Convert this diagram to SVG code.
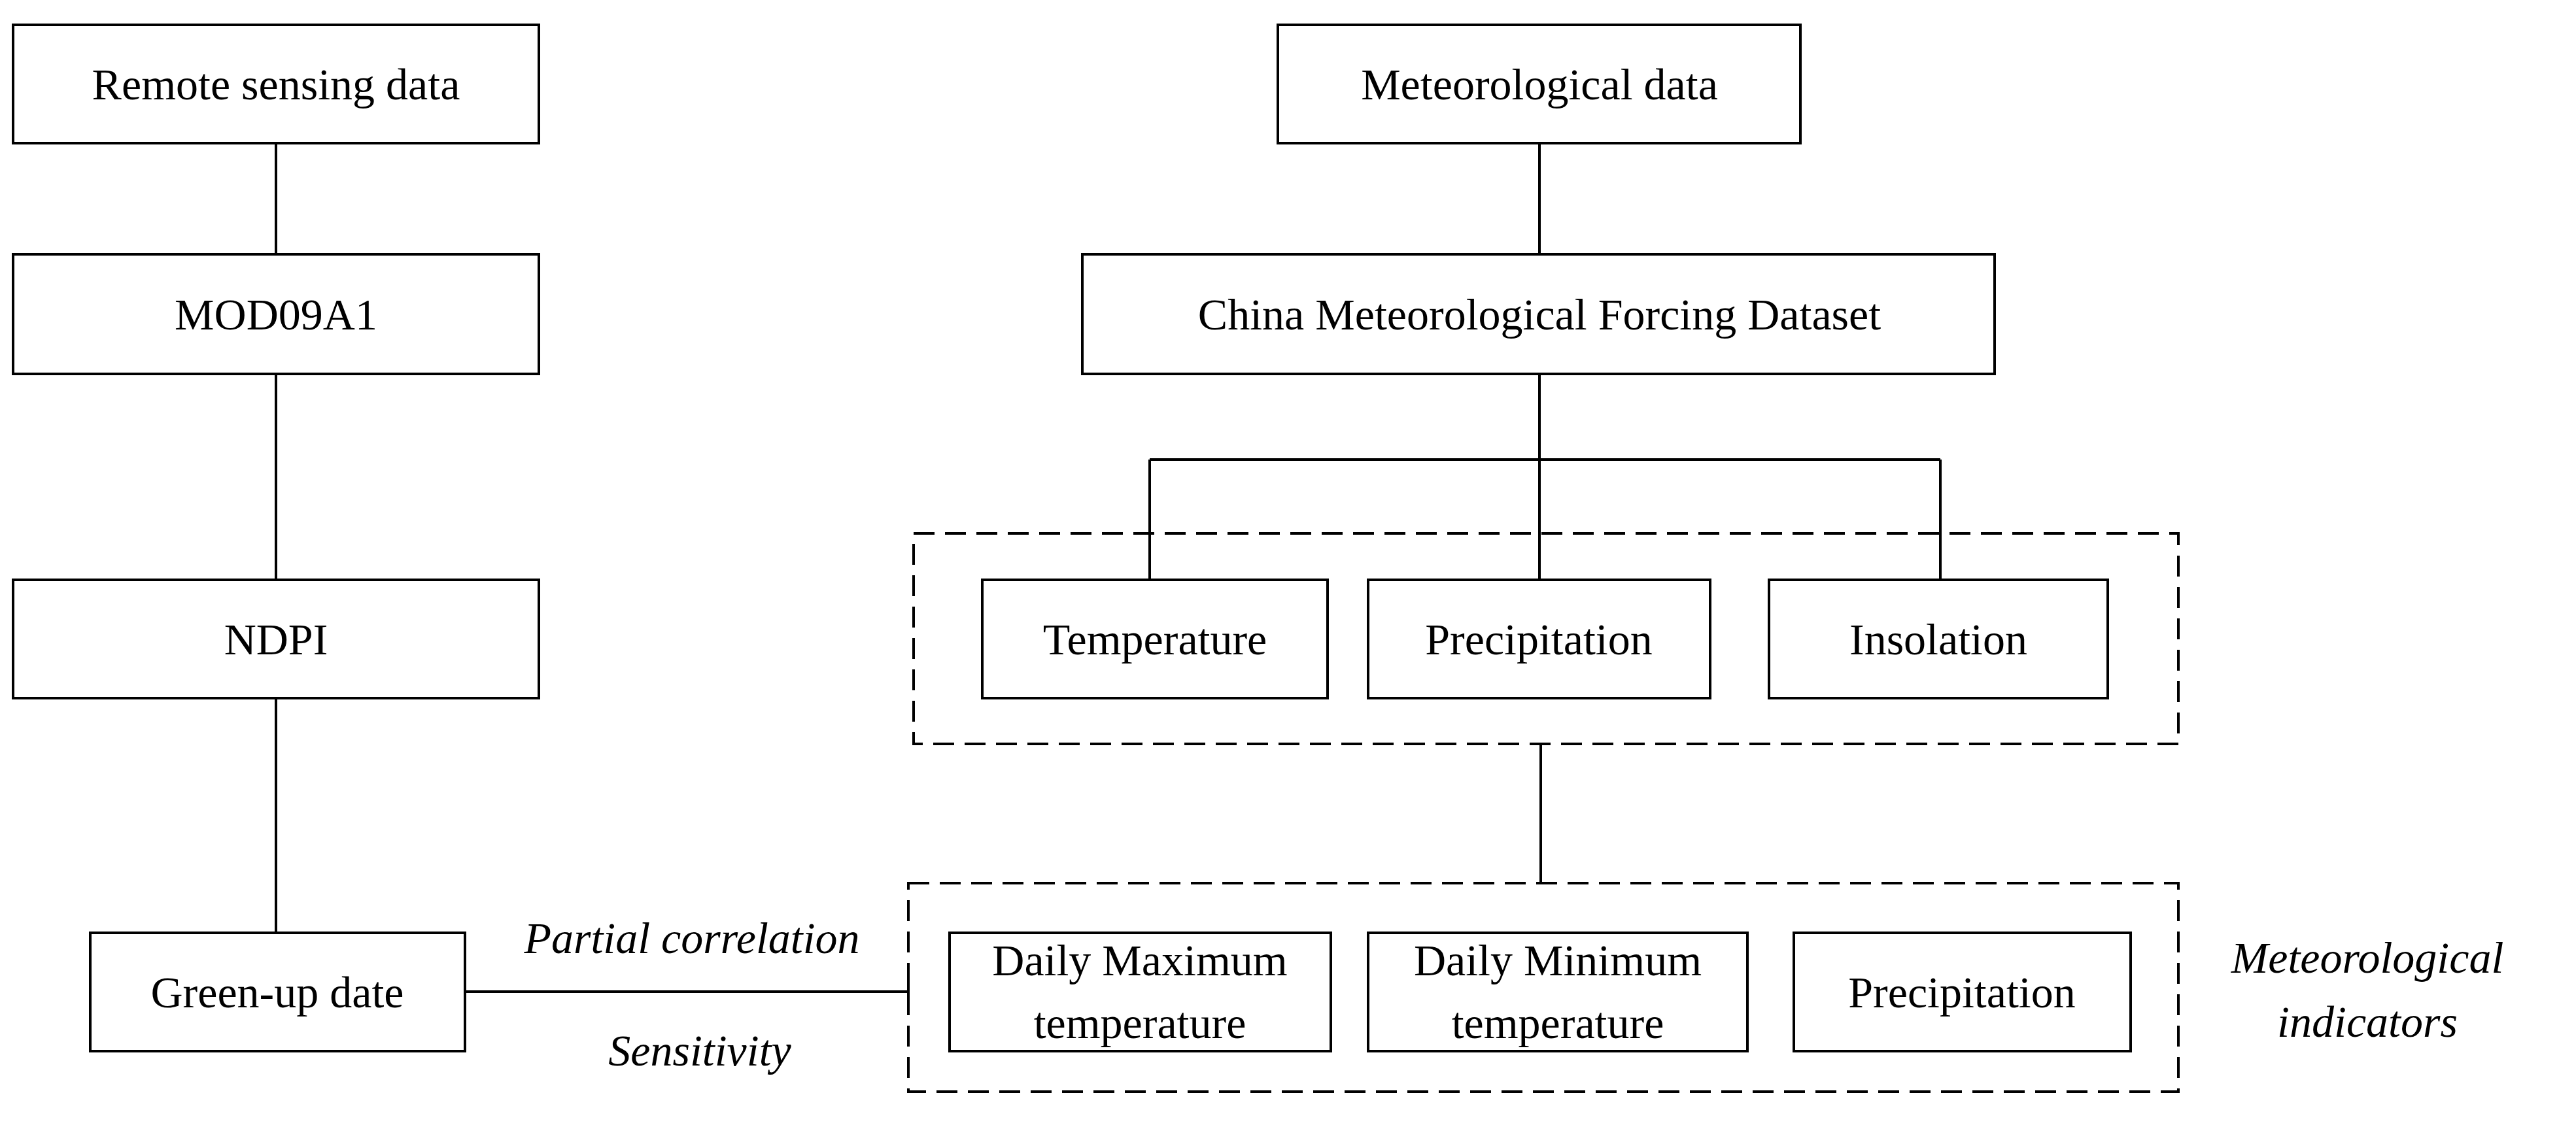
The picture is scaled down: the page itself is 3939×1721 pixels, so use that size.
<svg xmlns="http://www.w3.org/2000/svg" width="3939" height="1721" viewBox="0 0 3939 1721">
<style>
.b{fill:#fff;stroke:#000;stroke-width:4}
.d{fill:none;stroke:#000;stroke-width:4;stroke-dasharray:32 16}
text{font-family:"Liberation Serif",serif;font-size:68px;text-anchor:middle;fill:#000}
.i{font-style:italic}
#conn line{stroke:#000;stroke-width:4}
</style>
<rect width="3939" height="1721" fill="#fff"/>
<g id="conn">
<line x1="422" y1="219" x2="422" y2="389"/>
<line x1="422" y1="572" x2="422" y2="887"/>
<line x1="422" y1="1068" x2="422" y2="1427"/>
<line x1="2354" y1="219" x2="2354" y2="389"/>
<line x1="2354" y1="572" x2="2354" y2="703"/>
<line x1="1758" y1="703" x2="2967" y2="703"/>
<line x1="1758" y1="703" x2="1758" y2="887"/>
<line x1="2354" y1="703" x2="2354" y2="887"/>
<line x1="2967" y1="703" x2="2967" y2="887"/>
<line x1="2356" y1="1138" x2="2356" y2="1351"/>
<line x1="711" y1="1517" x2="1389" y2="1517"/>
<line x1="1389" y1="1490" x2="1389" y2="1544"/>
</g>
<g id="rs"><rect class="b" x="20" y="38" width="804" height="181"/><text x="422" y="152">Remote sensing data</text></g>
<g id="mod"><rect class="b" x="20" y="389" width="804" height="183"/><text x="422" y="504">MOD09A1</text></g>
<g id="ndpi"><rect class="b" x="20" y="887" width="804" height="181"/><text x="422" y="1001">NDPI</text></g>
<g id="green"><rect class="b" x="138" y="1427" width="573" height="181"/><text x="424" y="1541">Green-up date</text></g>
<g id="met"><rect class="b" x="1954" y="38" width="799" height="181"/><text x="2354" y="152">Meteorological data</text></g>
<g id="cmfd"><rect class="b" x="1655" y="389" width="1395" height="183"/><text x="2354" y="504">China Meteorological Forcing Dataset</text></g>
<g id="group1"><rect class="d" x="1397" y="816" width="1934" height="322"/></g>
<g id="temp"><rect class="b" x="1502" y="887" width="528" height="181"/><text x="1766" y="1001">Temperature</text></g>
<g id="prec"><rect class="b" x="2092" y="887" width="523" height="181"/><text x="2353" y="1001">Precipitation</text></g>
<g id="ins"><rect class="b" x="2705" y="887" width="518" height="181"/><text x="2964" y="1001">Insolation</text></g>
<g id="group2"><rect class="d" x="1389" y="1351" width="1942" height="319"/></g>
<g id="dmax"><rect class="b" x="1452" y="1427" width="583" height="181"/><text x="1743" y="1492">Daily Maximum</text><text x="1743" y="1588">temperature</text></g>
<g id="dmin"><rect class="b" x="2092" y="1427" width="580" height="181"/><text x="2382" y="1492">Daily Minimum</text><text x="2382" y="1588">temperature</text></g>
<g id="prec2"><rect class="b" x="2743" y="1427" width="515" height="181"/><text x="3000" y="1541">Precipitation</text></g>
<g id="labels">
<text class="i" x="1058" y="1458">Partial correlation</text>
<text class="i" x="1070" y="1630">Sensitivity</text>
<text class="i" x="3620" y="1488">Meteorological</text>
<text class="i" x="3620" y="1586">indicators</text>
</g>
</svg>
